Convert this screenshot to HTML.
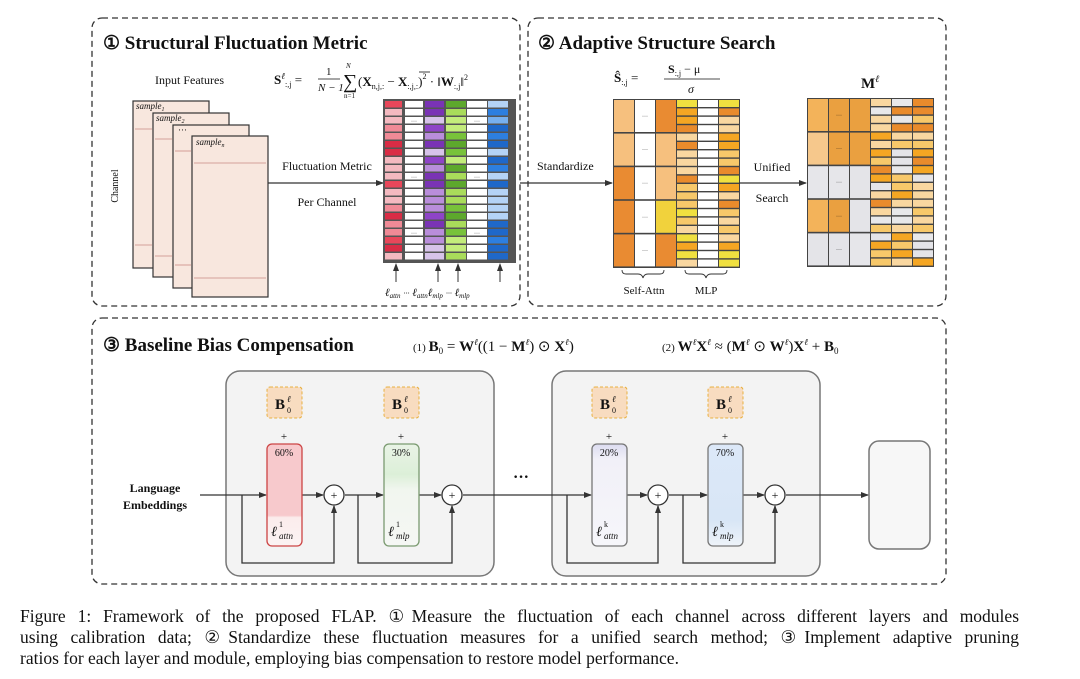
<!DOCTYPE html>
<html><head><meta charset="utf-8">
<style>
html,body{margin:0;padding:0;background:#fff;width:1080px;height:679px;overflow:hidden}
svg{position:absolute;left:0;top:0}
text{font-family:"Liberation Serif",serif;fill:#111}
.cap{position:absolute;left:20px;top:606px;width:999px;font-family:"Liberation Serif",serif;font-size:17.5px;line-height:21px;color:#111}
.cap div{text-align:justify;text-align-last:justify;white-space:nowrap;height:21px}
.cap div.l{text-align-last:left}
</style></head><body>
<svg id="s" width="1080" height="679" viewBox="0 0 1080 679" xmlns="http://www.w3.org/2000/svg">
<defs>
<marker id="a" markerWidth="8" markerHeight="8" refX="7" refY="4" orient="auto" markerUnits="userSpaceOnUse"><path d="M0,1 L8,4 L0,7 z" fill="#333"/></marker>
<linearGradient id="gr" x1="0" y1="0" x2="0" y2="1"><stop offset="0" stop-color="#f7c9cc"/><stop offset="0.7" stop-color="#f7c9cc"/><stop offset="0.72" stop-color="#fbecec"/><stop offset="1" stop-color="#fbf3f3"/></linearGradient>
<linearGradient id="gg" x1="0" y1="0" x2="0" y2="1"><stop offset="0" stop-color="#e9f3e6"/><stop offset="0.3" stop-color="#dcefd8"/><stop offset="0.45" stop-color="#f1f6ef"/><stop offset="1" stop-color="#f5f7f4"/></linearGradient>
<linearGradient id="gp" x1="0" y1="0" x2="0" y2="1"><stop offset="0" stop-color="#dcdcf0"/><stop offset="0.15" stop-color="#f1f0f8"/><stop offset="1" stop-color="#f6f6fa"/></linearGradient>
<linearGradient id="gb" x1="0" y1="0" x2="0" y2="1"><stop offset="0" stop-color="#dce8f8"/><stop offset="0.75" stop-color="#d8e6f6"/><stop offset="1" stop-color="#eef3f9"/></linearGradient>
</defs>

<rect x="92" y="18" width="428" height="288" rx="10" fill="none" stroke="#333" stroke-width="1.3" stroke-dasharray="6,4"/>
<rect x="528" y="18" width="418" height="288" rx="10" fill="none" stroke="#333" stroke-width="1.3" stroke-dasharray="6,4"/>
<rect x="92" y="318" width="854" height="266" rx="10" fill="none" stroke="#333" stroke-width="1.3" stroke-dasharray="6,4"/>

<text x="103" y="49" font-size="19" font-weight="bold">① Structural Fluctuation Metric</text>
<text x="538" y="49" font-size="19" font-weight="bold">② Adaptive Structure Search</text>
<text x="103" y="351" font-size="19" font-weight="bold">③ Baseline Bias Compensation</text>

<text x="155" y="84" font-size="12">Input Features</text>
<text x="274" y="84" font-size="13"><tspan font-weight="bold">S</tspan><tspan font-size="9" dy="-5" font-style="italic">ℓ</tspan><tspan font-size="8" dy="8">:,j</tspan><tspan dy="-3"> = </tspan></text>
<text x="326" y="75" font-size="11">1</text>
<line x1="318" y1="79" x2="340" y2="79" stroke="#111" stroke-width="0.8"/>
<text x="318" y="91" font-size="11" font-style="italic">N − 1</text>
<text x="343" y="88" font-size="20">∑</text>
<text x="346" y="68" font-size="7" font-style="italic">N</text>
<text x="344" y="98" font-size="7">n=1</text>
<text x="358" y="86" font-size="13">(<tspan font-weight="bold">X</tspan><tspan font-size="8" dy="3">n,j,:</tspan><tspan dy="-3"> − </tspan><tspan font-weight="bold">X</tspan><tspan font-size="8" dy="3">:,j,:</tspan><tspan dy="-3">)</tspan><tspan font-size="8" dy="-7">2</tspan><tspan dy="7"> · ‖</tspan><tspan font-weight="bold">W</tspan><tspan font-size="8" dy="3">:,j</tspan><tspan dy="-3">‖</tspan><tspan font-size="8" dy="-6">2</tspan></text>
<line x1="419" y1="72" x2="430" y2="72" stroke="#111" stroke-width="0.8"/>

<g stroke="#333" stroke-width="1.2" fill="#f8e7de">
<rect x="133" y="101" width="76" height="167"/>
<rect x="153" y="113" width="76" height="164"/>
<rect x="173" y="125" width="76" height="163"/>
<rect x="192" y="136" width="76" height="161"/>
</g>
<g stroke="#c98a84" stroke-width="0.8">
<line x1="135" y1="129" x2="152" y2="129"/><line x1="135" y1="245" x2="152" y2="245"/>
<line x1="155" y1="139" x2="172" y2="139"/><line x1="155" y1="256" x2="172" y2="256"/>
<line x1="175" y1="151" x2="191" y2="151"/><line x1="175" y1="265" x2="191" y2="265"/>
<line x1="194" y1="163" x2="266" y2="163"/><line x1="194" y1="278" x2="266" y2="278"/>
</g>
<text x="136" y="109" font-size="9" font-style="italic">sample<tspan font-size="6" dy="2">1</tspan></text>
<text x="156" y="121" font-size="9" font-style="italic">sample<tspan font-size="6" dy="2">2</tspan></text>
<text x="178" y="133" font-size="9">···</text>
<text x="196" y="145" font-size="9" font-style="italic">sample<tspan font-size="6" dy="2">n</tspan></text>
<text x="118" y="186" font-size="10" transform="rotate(-90 118 186)" text-anchor="middle">Channel</text>

<line x1="268" y1="183" x2="383" y2="183" stroke="#333" stroke-width="1.2" marker-end="url(#a)"/>
<text x="327" y="170" font-size="12" text-anchor="middle">Fluctuation Metric</text>
<text x="327" y="206" font-size="12" text-anchor="middle">Per Channel</text>

<g id="g1"></g>
<g stroke="#333" stroke-width="1" marker-end="url(#a)">
<line x1="396" y1="282" x2="396" y2="264"/><line x1="438" y1="282" x2="438" y2="264"/>
<line x1="458" y1="282" x2="458" y2="264"/><line x1="500" y1="282" x2="500" y2="264"/>
</g>
<text x="385" y="296" font-size="11" font-style="italic">ℓ<tspan font-size="7" dy="2">attn</tspan><tspan dx="3" dy="-2" font-size="8">···</tspan> ℓ<tspan font-size="7" dy="2">attn</tspan><tspan dy="-2">ℓ</tspan><tspan font-size="7" dy="2">mlp</tspan><tspan dx="3" dy="-2" font-size="8">···</tspan> ℓ<tspan font-size="7" dy="2">mlp</tspan></text>

<text x="614" y="82" font-size="13"><tspan font-weight="bold">Ŝ</tspan><tspan font-size="8" dy="3">:,j</tspan><tspan dy="-3"> = </tspan></text>
<text x="668" y="73" font-size="12"><tspan font-weight="bold">S</tspan><tspan font-size="8" dy="3">:,j</tspan><tspan dy="-3"> − μ</tspan></text>
<line x1="664" y1="79" x2="720" y2="79" stroke="#111" stroke-width="0.8"/>
<text x="688" y="93" font-size="12" font-style="italic">σ</text>
<text x="537" y="170" font-size="12">Standardize</text>
<line x1="520" y1="183" x2="612" y2="183" stroke="#333" stroke-width="1.2" marker-end="url(#a)"/>
<g id="g2"></g>
<path d="M622,270 q0,4 4,4 h12 q4,0 5,4 q1,-4 5,-4 h12 q4,0 4,-4" fill="none" stroke="#333" stroke-width="0.9"/>
<path d="M685,270 q0,4 4,4 h12 q4,0 5,4 q1,-4 5,-4 h12 q4,0 4,-4" fill="none" stroke="#333" stroke-width="0.9"/>
<text x="644" y="294" font-size="11" text-anchor="middle">Self-Attn</text>
<text x="706" y="294" font-size="11" text-anchor="middle">MLP</text>
<line x1="739" y1="183" x2="806" y2="183" stroke="#333" stroke-width="1.2" marker-end="url(#a)"/>
<text x="772" y="171" font-size="12" text-anchor="middle">Unified</text>
<text x="772" y="202" font-size="12" text-anchor="middle">Search</text>
<text x="861" y="88" font-size="15" font-weight="bold">M<tspan font-size="10" dy="-6" font-weight="normal" font-style="italic">ℓ</tspan></text>
<g id="g3"></g>

<text x="413" y="351" font-size="15"><tspan font-size="11">(1) </tspan><tspan font-weight="bold">B</tspan><tspan font-size="9" dy="3">0</tspan><tspan dy="-3"> = </tspan><tspan font-weight="bold">W</tspan><tspan font-size="9" dy="-6" font-style="italic">ℓ</tspan><tspan dy="6">((1 − </tspan><tspan font-weight="bold">M</tspan><tspan font-size="9" dy="-6" font-style="italic">ℓ</tspan><tspan dy="6">) ⊙ </tspan><tspan font-weight="bold">X</tspan><tspan font-size="9" dy="-6" font-style="italic">ℓ</tspan><tspan dy="6">)</tspan></text>
<text x="662" y="351" font-size="15"><tspan font-size="11">(2) </tspan><tspan font-weight="bold">W</tspan><tspan font-size="9" dy="-6" font-style="italic">ℓ</tspan><tspan dy="6" font-weight="bold">X</tspan><tspan font-size="9" dy="-6" font-style="italic">ℓ</tspan><tspan dy="6"> ≈ (</tspan><tspan font-weight="bold">M</tspan><tspan font-size="9" dy="-6" font-style="italic">ℓ</tspan><tspan dy="6"> ⊙ </tspan><tspan font-weight="bold">W</tspan><tspan font-size="9" dy="-6" font-style="italic">ℓ</tspan><tspan dy="6">)</tspan><tspan font-weight="bold">X</tspan><tspan font-size="9" dy="-6" font-style="italic">ℓ</tspan><tspan dy="6"> + </tspan><tspan font-weight="bold">B</tspan><tspan font-size="9" dy="3">0</tspan></text>

<rect x="226" y="371" width="268" height="205" rx="14" fill="#f3f3f3" stroke="#777" stroke-width="1.5"/>
<rect x="552" y="371" width="268" height="205" rx="14" fill="#f3f3f3" stroke="#777" stroke-width="1.5"/>
<rect x="869" y="441" width="61" height="108" rx="10" fill="#f7f7f7" stroke="#777" stroke-width="1.5"/>

<text x="155" y="492" font-size="12" font-weight="bold" text-anchor="middle">Language</text>
<text x="155" y="509" font-size="12" font-weight="bold" text-anchor="middle">Embeddings</text>
<g id="g4"></g>
<text x="513" y="482" font-size="16" font-weight="bold">···</text>
</svg>
<div class="cap"><div>Figure 1: Framework of the proposed FLAP. ①Measure the fluctuation of each channel across different layers and modules</div><div>using calibration data; ②Standardize these fluctuation measures for a unified search method; ③Implement adaptive pruning</div><div class="l">ratios for each layer and module, employing bias compensation to restore model performance.</div></div>
<script>
var NS="http://www.w3.org/2000/svg";
function el(p,t,a,txt){var e=document.createElementNS(NS,t);for(var k in a)e.setAttribute(k,a[k]);if(txt)e.textContent=txt;p.appendChild(e);return e;}
function rnd(i){var x=Math.sin(i*12.9898+78.233)*43758.5453;return x-Math.floor(x);}
var g1=document.getElementById('g1');
el(g1,'rect',{x:383,y:99,width:133,height:164,fill:'#555'});
var cols=[[385,17,['#e8475a','#f08a96','#f4b9c0','#d92c45']],[405,18,['#fff']],[425,19,['#8e44c8','#b98ddb','#d7c3ea','#7a33b5']],[446,20,['#78c23a','#a9dc5a','#5da82c','#c3ec7b']],[467,20,['#fff']],[488,20,['#2d7fe0','#77b0ef','#b4d3f6','#1f68c9']]];
var idx=0;
cols.forEach(function(c){for(var r=0;r<20;r++){var col=c[2][Math.floor(rnd(idx++)*c[2].length)];el(g1,'rect',{x:c[0],y:101+r*8,width:c[1],height:6.5,fill:col});}
 if(c[2][0]=='#fff'){[2,9,16].forEach(function(r){el(g1,'text',{x:c[0]+c[1]/2,y:101+r*8+6,'font-size':6,'text-anchor':'middle',fill:'#888'},'···');});}});
function grid(gid,x0,y0,seed,pal,attnPal){var g=document.getElementById(gid);el(g,'rect',{x:x0,y:y0,width:127,height:169,fill:'#444'});
 var xs=[x0+1,x0+22,x0+43,x0+64,x0+85,x0+106];
 for(var c=0;c<3;c++)for(var r=0;r<5;r++){var col=c==1&&gid=='g2'?'#fff':attnPal[Math.floor(rnd(seed+c*7+r)*attnPal.length)];el(g,'rect',{x:xs[c],y:y0+1+r*33.6,width:20,height:32,fill:col});
  if(c==1)el(g,'text',{x:xs[c]+10,y:y0+19+r*33.6,'font-size':6,'text-anchor':'middle',fill:'#999'},'···');}
 for(var c=3;c<6;c++)for(var r=0;r<20;r++){var col=(c==4&&gid=='g2')?'#fff':pal[Math.floor(rnd(seed+c*31+r*3)*pal.length)];el(g,'rect',{x:xs[c],y:y0+1+r*8.4,width:20,height:7,fill:col});}
}
grid('g2',613,99,5,['#f5a623','#f7c86a','#f0e040','#e98b2c','#f9d7a0'],['#f1d23c','#f2a64a','#e98b32','#f6c07e']);
grid('g3',807,98,99,['#f5a623','#f7c86a','#e98b2c','#f9d7a0','#e8e8ea','#e4e4e8'],['#e6e6ea','#f3b35a','#f6c88c','#eaa040','#e4e4e8']);
var g=document.getElementById('g4');
function line(x1,y1,x2,y2,arr){el(g,'line',{x1:x1,y1:y1,x2:x2,y2:y2,stroke:'#333','stroke-width':1.3,'marker-end':arr?'url(#a)':''});}
function path(d,arr){el(g,'path',{d:d,fill:'none',stroke:'#333','stroke-width':1.3,'marker-end':arr?'url(#a)':''});}
function circ(x){el(g,'circle',{cx:x,cy:495,r:10,fill:'#fff',stroke:'#333','stroke-width':1.3});el(g,'text',{x:x,y:499,'font-size':12,'text-anchor':'middle'},'+');}
function mod(x,fill,stroke,pct,sup,sub){
 el(g,'rect',{x:x,y:387,width:35,height:31,rx:3,fill:'#f8dcc0',stroke:'#e8b040','stroke-width':1,'stroke-dasharray':'3,2'});
 el(g,'text',{x:x+8,y:409,'font-size':15,'font-weight':'bold'},'B');
 el(g,'text',{x:x+20,y:402,'font-size':9,'font-style':'italic'},'ℓ');
 el(g,'text',{x:x+20,y:413,'font-size':8},'0');
 el(g,'text',{x:x+17,y:440,'font-size':11,'text-anchor':'middle'},'+');
 el(g,'rect',{x:x,y:444,width:35,height:102,rx:5,fill:fill,stroke:stroke,'stroke-width':1.3});
 el(g,'text',{x:x+17,y:456,'font-size':10,'text-anchor':'middle'},pct);
 el(g,'text',{x:x+4,y:536,'font-size':14,'font-style':'italic'},'ℓ');
 el(g,'text',{x:x+12,y:527,'font-size':8},sup);
 el(g,'text',{x:x+12,y:539,'font-size':9,'font-style':'italic'},sub);
}
line(200,495,266,495,true);line(302,495,323,495,true);line(345,495,383,495,true);line(419,495,441,495,true);
path('M242,495 V563 H334 V506',true);path('M358,495 V563 H452 V506',true);
line(463,495,545,495,false);line(545,495,591,495,true);
line(627,495,647,495,true);line(669,495,707,495,true);line(743,495,764,495,true);line(786,495,868,495,true);
path('M567,495 V563 H658 V506',true);path('M683,495 V563 H775 V506',true);
mod(267,'url(#gr)','#c44','60%','1','attn');
mod(384,'url(#gg)','#7a9a70','30%','1','mlp');
mod(592,'url(#gp)','#777','20%','k','attn');
mod(708,'url(#gb)','#777','70%','k','mlp');
circ(334);circ(452);circ(658);circ(775);
</script>
</body></html>
